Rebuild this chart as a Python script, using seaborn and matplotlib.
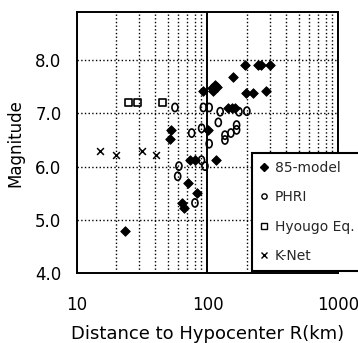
import numpy as np
import pandas as pd
import matplotlib
matplotlib.use("Agg")
import matplotlib.pyplot as plt
import seaborn as sns
from matplotlib.lines import Line2D
from matplotlib.markers import MarkerStyle
from matplotlib.transforms import Affine2D
from matplotlib.ticker import LogLocator, NullFormatter

# ---------------- data ----------------
model85_R = [23.3, 53, 52, 73.5, 80, 70.5, 82.6, 63.4, 66.4, 93, 101.4, 108, 111,
             114, 118, 117, 144, 153, 162, 158, 194, 243, 258, 298, 197, 222, 279]
model85_M = [4.79, 6.68, 6.51, 6.12, 6.12, 5.70, 5.50, 5.31, 5.23, 7.42, 6.69, 7.47, 7.42,
             7.53, 7.50, 6.12, 7.10, 7.10, 7.10, 7.68, 7.90, 7.90, 7.90, 7.90, 7.39, 7.39, 7.41]

phri_R = [56.4, 93, 103, 125, 174, 200, 121, 167, 167, 136, 136, 151, 75.7, 90.2,
          103, 90, 95.7, 60.5, 59.2, 80.2]
phri_M = [7.11, 7.11, 7.11, 7.03, 7.03, 7.04, 6.83, 6.78, 6.69, 6.59, 6.50, 6.63, 6.63, 6.72,
          6.43, 6.12, 6.01, 6.01, 5.82, 5.32]

hyougo_R = [25.0, 29.3, 45.4]
hyougo_M = [7.20, 7.20, 7.20]

knet_R = [15.0, 20.0, 31.8, 40.5]
knet_M = [6.30, 6.21, 6.30, 6.21]

source_names = ["85-model", "PHRI", "Hyougo Eq.", "K-Net"]
x_ticks = [10, 100, 1000]
x_tick_labels = ["10", "100", "1000"]
y_ticks = [4, 5, 6, 7, 8]
y_tick_labels = ["4.0", "5.0", "6.0", "7.0", "8.0"]
x_label = "Distance to Hypocenter R(km)"
y_label = "Magnitude"

df = pd.concat([
    pd.DataFrame({"R": model85_R, "M": model85_M, "source": source_names[0]}),
    pd.DataFrame({"R": phri_R, "M": phri_M, "source": source_names[1]}),
    pd.DataFrame({"R": hyougo_R, "M": hyougo_M, "source": source_names[2]}),
    pd.DataFrame({"R": knet_R, "M": knet_M, "source": source_names[3]}),
], ignore_index=True)

# ---------------- style ----------------
sns.set_style("white")
plt.rcParams["font.family"] = ["DejaVu Sans"]

fig = plt.figure(figsize=(3.58, 3.43), dpi=100)
ax = fig.add_axes([0.2142, 0.2032, 0.7307, 0.7618])

ax.set_xscale("log")
ax.set_xlim(10, 1000)
ax.set_ylim(4, 8.9)

# grid
ax.xaxis.set_minor_locator(LogLocator(base=10, subs=np.arange(2, 10)))
ax.xaxis.set_minor_formatter(NullFormatter())
ax.grid(which="minor", axis="x", ls=":", color="k", lw=1.0)
ax.grid(which="major", axis="x", ls="-", color="k", lw=1.4)
ax.grid(which="major", axis="y", ls=":", color="k", lw=1.0)
ax.set_axisbelow(True)

oval = MarkerStyle("o", transform=Affine2D().scale(0.85, 1.15))

# points
sub = df[df.source == source_names[0]]
sns.scatterplot(data=sub, x="R", y="M", marker="D", s=24, color="k",
                edgecolor="k", linewidth=0.6, ax=ax, legend=False, zorder=3)
sub = df[df.source == source_names[1]]
sns.scatterplot(data=sub, x="R", y="M", marker=oval, s=26, facecolor="none",
                edgecolor="k", linewidth=1.2, ax=ax, legend=False, zorder=3)
sub = df[df.source == source_names[2]]
sns.scatterplot(data=sub, x="R", y="M", marker="s", s=26, facecolor="none",
                edgecolor="k", linewidth=1.2, ax=ax, legend=False, zorder=3)
sub = df[df.source == source_names[3]]
sns.scatterplot(data=sub, x="R", y="M", marker="x", s=24, color="k",
                linewidth=1.1, ax=ax, legend=False, zorder=3)

# ticks
ax.set_xticks(x_ticks)
ax.set_xticklabels(x_tick_labels)
ax.set_yticks(y_ticks)
ax.set_yticklabels(y_tick_labels)
ax.tick_params(axis="both", which="major", direction="in", length=4, width=1.2,
               labelsize=12, colors="k")
ax.tick_params(axis="x", which="minor", direction="in", length=2.5, width=0.8, colors="k")
ax.tick_params(axis="x", which="major", pad=16)
ax.tick_params(axis="y", which="major", pad=11)

for sp in ax.spines.values():
    sp.set_visible(True)
    sp.set_color("k")
    sp.set_linewidth(1.4)

ax.set_xlabel(x_label, fontsize=13, labelpad=8, color="k")
ax.set_ylabel(y_label, fontsize=12, labelpad=8, color="k")

# legend
handles = [
    Line2D([], [], ls="none", marker="D", ms=3.6, color="k"),
    Line2D([], [], ls="none", marker="o", ms=3.8, mfc="none", mec="k", mew=1.0),
    Line2D([], [], ls="none", marker="s", ms=4.2, mfc="none", mec="k", mew=1.0),
    Line2D([], [], ls="none", marker="x", ms=3.8, color="k", mew=1.0),
]
leg = ax.legend(handles, source_names, loc="upper left",
                bbox_to_anchor=(252 / 358, 1 - 153 / 343), bbox_transform=fig.transFigure,
                frameon=True, fancybox=False, framealpha=1, edgecolor="k",
                fontsize=10, handlelength=0.6, handletextpad=0.5,
                labelspacing=1.12, borderpad=0.55, borderaxespad=0)
leg.get_frame().set_linewidth(1.5)
leg.set_zorder(5)

fig.savefig("out.png", dpi=100)
